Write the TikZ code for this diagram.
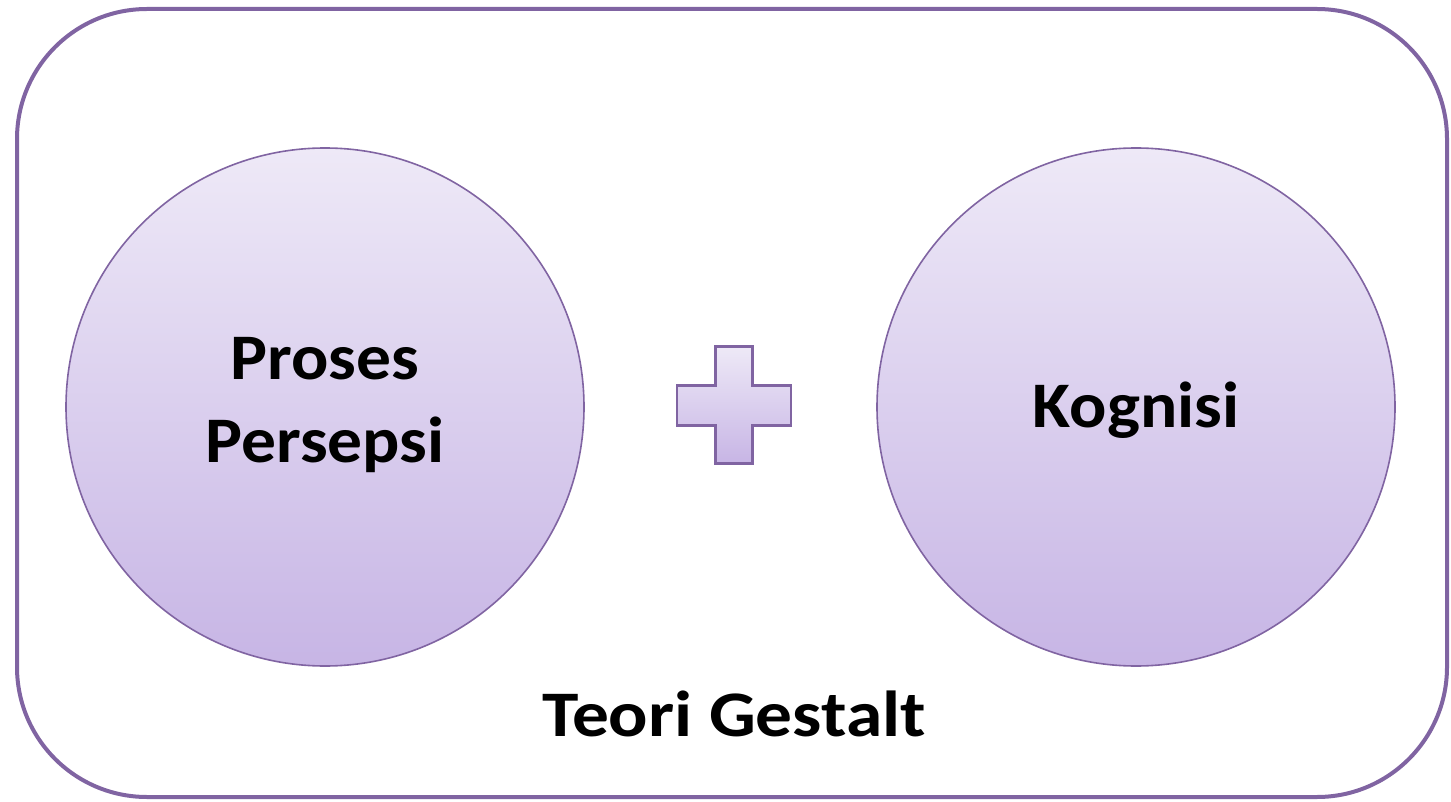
\documentclass[tikz,border=0pt]{standalone}
\usepackage{fontspec}
\setmainfont{Carlito}
\newfontfamily\ballfont[FakeStretch=1.07]{Carlito}
\newfontfamily\captionfont[FakeStretch=1.13]{Carlito}
\usetikzlibrary{positioning}

\definecolor{frameviolet}{HTML}{8064A2}
\definecolor{ballTop}{HTML}{EEE9F7}
\definecolor{ballBottom}{HTML}{C7B5E5}

\begin{document}
\begin{tikzpicture}[x=1pt, y=-1pt,
						ball/.style={circle, draw=frameviolet, line width=1.6pt, top color=ballTop, bottom color=ballBottom, minimum size=518pt, inner sep=0pt},
						balltext/.style={align=center, font=\ballfont\fontsize{65}{83}\selectfont\bfseries},
						caption/.style={font=\captionfont\fontsize{65}{78}\selectfont\bfseries},
						plussign/.style={draw=frameviolet, line width=2.5pt, top color=ballTop, bottom color=ballBottom, line join=miter}]
		\useasboundingbox (0,0) rectangle (1451,802);
		\draw[frameviolet, line width=4pt, rounded corners=130pt] (17,9) rectangle (1447,797);

		\node (persepsi) [ball] at (325,407) {};
		\node (persepsi_text) [balltext] at ([yshift=2]persepsi.center) {Proses\\Persepsi};
		\node (kognisi) [ball] at (1136,407) {};
		\node (kognisi_text) [balltext] at ([yshift=-3]kognisi.center) {Kognisi};
		\coordinate (plus) at (734,405);
		\node (gestalt) [caption] at (734,714) {Teori Gestalt};

		\draw[plussign] ([shift={(-18.5,-58.5)}]plus) -- ++(37,0) -- ++(0,39) -- ++(38.5,0) -- ++(0,40)
				-- ++(-38.5,0) -- ++(0,38) -- ++(-37,0) -- ++(0,-38) -- ++(-38.5,0) -- ++(0,-40) -- ++(38.5,0) -- cycle;
	\end{tikzpicture}
\end{document}
